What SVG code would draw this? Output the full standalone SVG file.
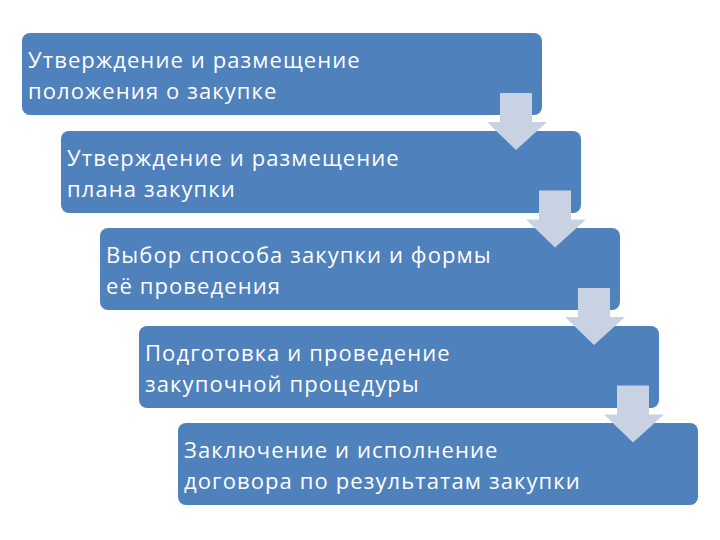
<svg xmlns="http://www.w3.org/2000/svg" width="720" height="540" viewBox="0 0 720 540">
<style>
.b{fill:#4f81bd}
.a{fill:#c9d2e3}
.t{fill:#fff;font-family:"Open Sans","DejaVu Sans",sans-serif;font-size:22px;letter-spacing:1.1px}
</style>
<defs>
<path id="arr" d="M500,93 H532 V122 H547 L516,150 L487,122 H500 Z"/>
</defs>
<rect width="720" height="540" fill="#fff"/>
<g id="n1"><rect class="b" x="22" y="33" width="520" height="82" rx="8"/><text class="t" x="28" y="68">Утверждение и размещение</text><text class="t" x="28" y="99">положения о закупке</text></g>
<g id="n2"><rect class="b" x="61" y="131" width="520" height="82" rx="8"/><text class="t" x="67" y="166">Утверждение и размещение</text><text class="t" x="67" y="197">плана закупки</text></g>
<g id="n3"><rect class="b" x="100" y="228" width="520" height="82" rx="8"/><text class="t" x="106" y="263">Выбор способа закупки и формы</text><text class="t" x="106" y="294">её проведения</text></g>
<g id="n4"><rect class="b" x="139" y="326" width="520" height="82" rx="8"/><text class="t" x="145" y="361">Подготовка и проведение</text><text class="t" x="145" y="392">закупочной процедуры</text></g>
<g id="n5"><rect class="b" x="178" y="423" width="520" height="82" rx="8"/><text class="t" x="184" y="458">Заключение и исполнение</text><text class="t" x="184" y="489">договора по результатам закупки</text></g>
<g id="connectors">
<use href="#arr" class="a"/>
<use href="#arr" class="a" transform="translate(39,97.5)"/>
<use href="#arr" class="a" transform="translate(78,195)"/>
<use href="#arr" class="a" transform="translate(117,292.5)"/>
</g>
</svg>
